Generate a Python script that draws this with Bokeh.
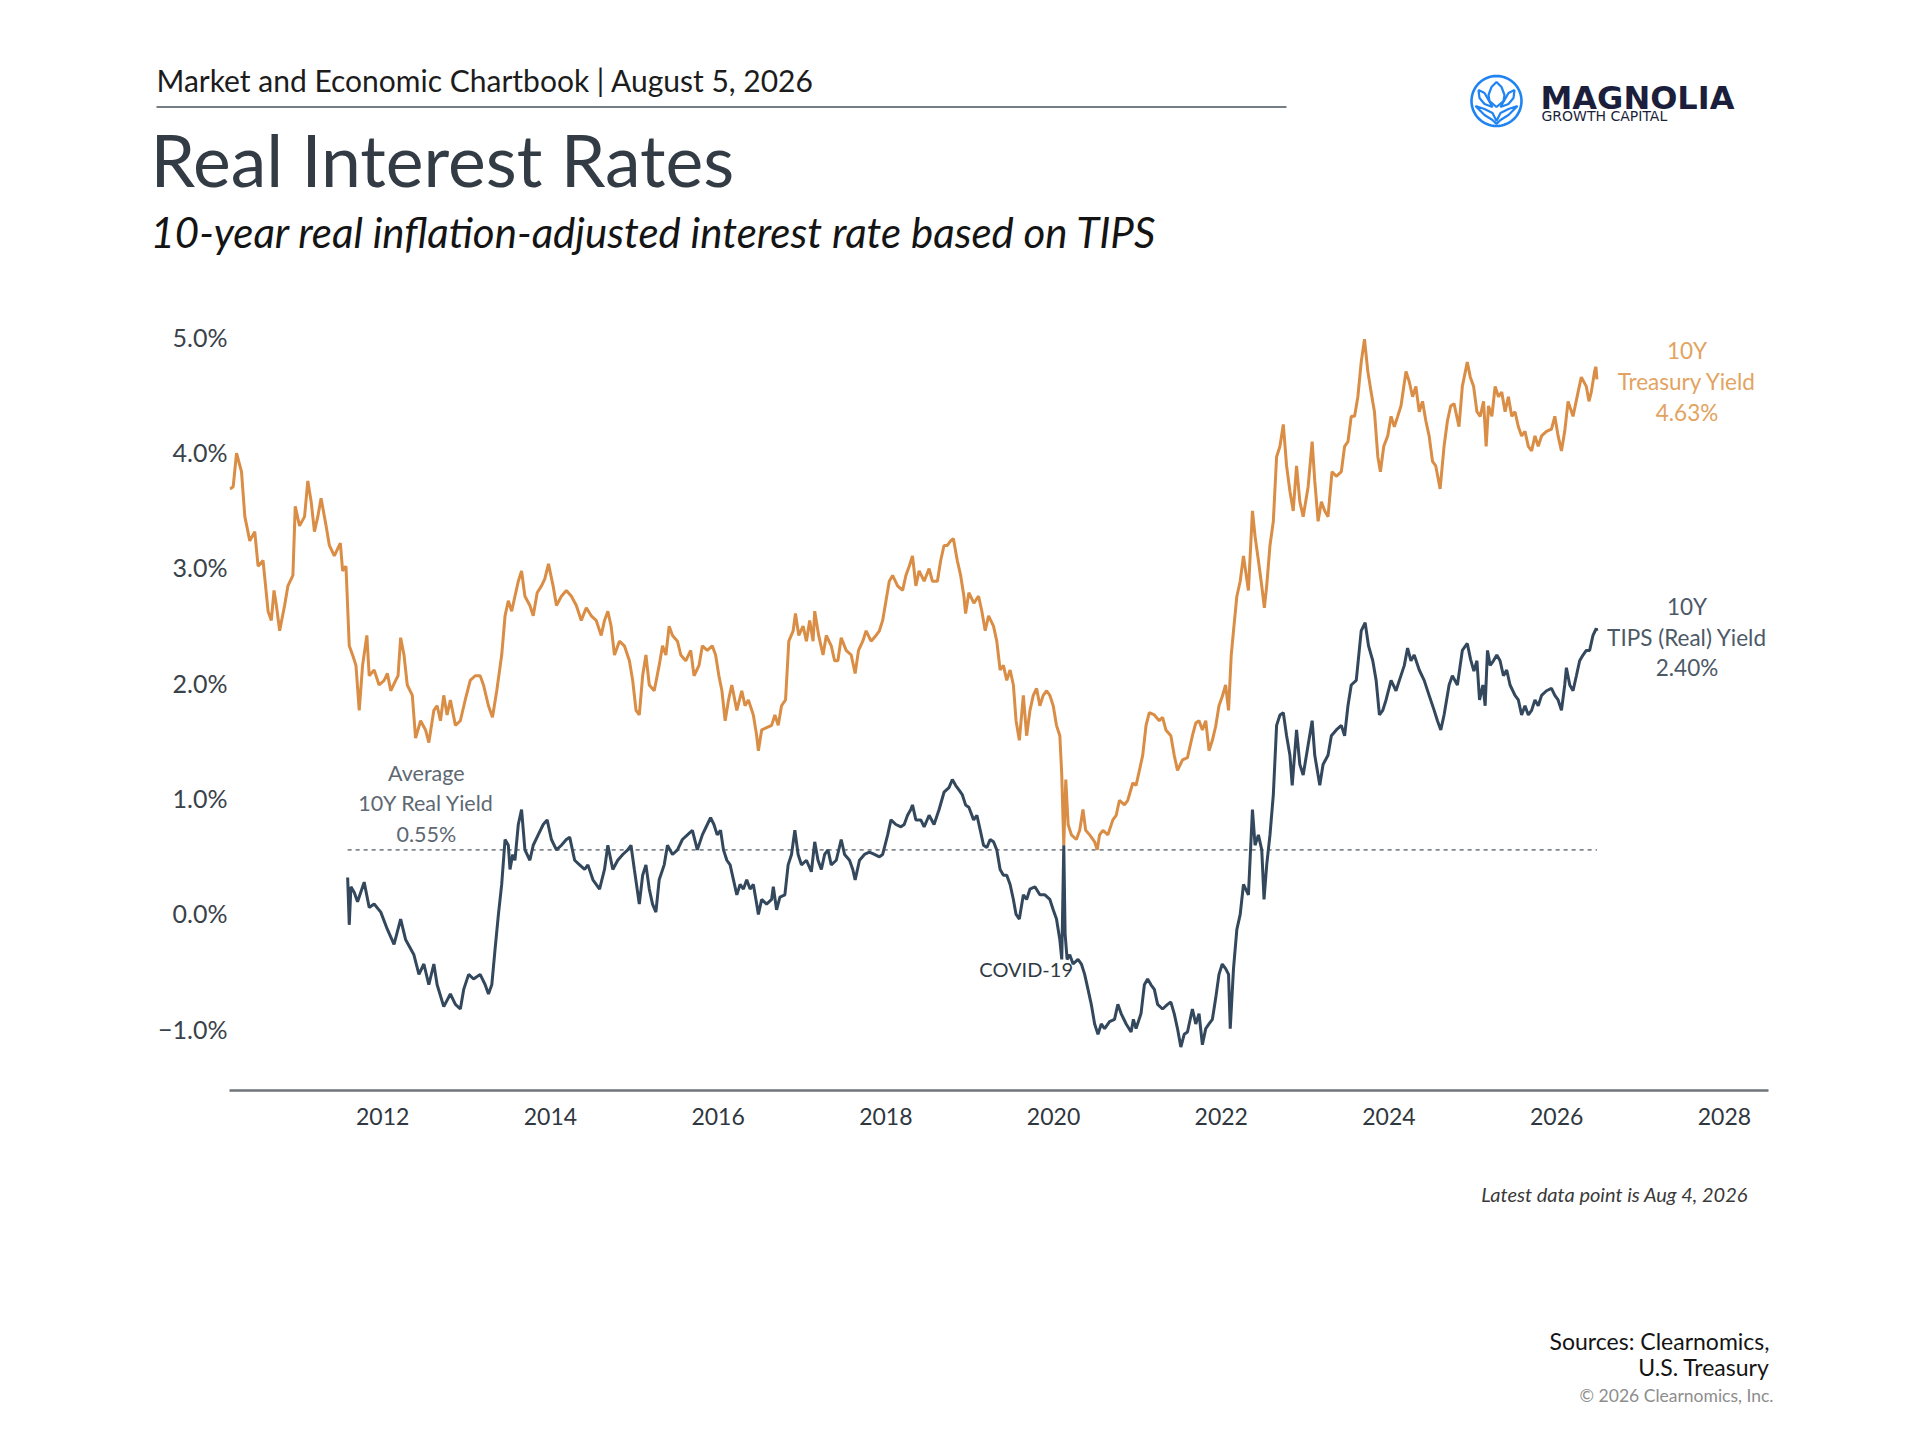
import math

from bokeh.embed import file_html
from bokeh.layouts import column
from bokeh.models import FixedTicker, Label, PolyAnnotation, Range1d
from bokeh.plotting import figure
from bokeh.resources import INLINE

# 10Y Treasury yield (%); x is decimal year
tsy_year = [
    2010.178, 2010.217, 2010.257, 2010.316, 2010.356, 2010.415, 2010.474, 2010.514, 2010.573, 2010.633,
    2010.672, 2010.704, 2010.732, 2010.771, 2010.830, 2010.870, 2010.929, 2010.957, 2011.008, 2011.068,
    2011.107, 2011.147, 2011.186, 2011.226, 2011.265, 2011.325, 2011.364, 2011.423, 2011.495, 2011.522,
    2011.562, 2011.601, 2011.641, 2011.681, 2011.720, 2011.760, 2011.811, 2011.839, 2011.898, 2011.957,
    2012.017, 2012.056, 2012.096, 2012.155, 2012.183, 2012.214, 2012.254, 2012.293, 2012.353, 2012.392,
    2012.452, 2012.511, 2012.550, 2012.610, 2012.649, 2012.689, 2012.728, 2012.768, 2012.807, 2012.867,
    2012.926, 2012.984, 2013.044, 2013.103, 2013.162, 2013.202, 2013.261, 2013.309, 2013.360, 2013.419,
    2013.459, 2013.498, 2013.538, 2013.577, 2013.617, 2013.656, 2013.696, 2013.755, 2013.795, 2013.842,
    2013.894, 2013.933, 2013.977, 2014.032, 2014.072, 2014.131, 2014.190, 2014.250, 2014.309, 2014.368,
    2014.428, 2014.487, 2014.546, 2014.606, 2014.645, 2014.685, 2014.724, 2014.764, 2014.823, 2014.882,
    2014.942, 2014.981, 2015.021, 2015.060, 2015.100, 2015.139, 2015.179, 2015.238, 2015.297, 2015.337,
    2015.377, 2015.416, 2015.456, 2015.515, 2015.555, 2015.614, 2015.673, 2015.713, 2015.772, 2015.812,
    2015.871, 2015.930, 2015.970, 2016.009, 2016.045, 2016.084, 2016.124, 2016.163, 2016.223, 2016.282,
    2016.321, 2016.361, 2016.420, 2016.460, 2016.480, 2016.519, 2016.578, 2016.638, 2016.677, 2016.717,
    2016.756, 2016.804, 2016.843, 2016.895, 2016.922, 2016.962, 2017.013, 2017.053, 2017.092, 2017.132,
    2017.152, 2017.199, 2017.251, 2017.290, 2017.349, 2017.389, 2017.428, 2017.468, 2017.527, 2017.587,
    2017.634, 2017.674, 2017.725, 2017.765, 2017.824, 2017.883, 2017.923, 2017.962, 2018.002, 2018.041,
    2018.081, 2018.140, 2018.200, 2018.239, 2018.279, 2018.318, 2018.358, 2018.397, 2018.457, 2018.516,
    2018.555, 2018.615, 2018.654, 2018.694, 2018.733, 2018.773, 2018.805, 2018.852, 2018.892, 2018.931,
    2018.951, 2018.990, 2019.050, 2019.106, 2019.145, 2019.185, 2019.225, 2019.284, 2019.323, 2019.363,
    2019.402, 2019.442, 2019.482, 2019.521, 2019.553, 2019.592, 2019.640, 2019.679, 2019.719, 2019.758,
    2019.798, 2019.837, 2019.877, 2019.917, 2019.956, 2019.996, 2020.035, 2020.075, 2020.098, 2020.122,
    2020.146, 2020.174, 2020.213, 2020.272, 2020.312, 2020.351, 2020.383, 2020.431, 2020.490, 2020.521,
    2020.549, 2020.589, 2020.648, 2020.707, 2020.747, 2020.786, 2020.846, 2020.885, 2020.945, 2020.984,
    2021.024, 2021.063, 2021.103, 2021.142, 2021.202, 2021.261, 2021.300, 2021.340, 2021.399, 2021.439,
    2021.478, 2021.538, 2021.597, 2021.656, 2021.696, 2021.735, 2021.775, 2021.815, 2021.854, 2021.894,
    2021.933, 2021.973, 2022.012, 2022.052, 2022.087, 2022.119, 2022.146, 2022.186, 2022.226, 2022.265,
    2022.324, 2022.372, 2022.403, 2022.443, 2022.483, 2022.514, 2022.542, 2022.581, 2022.621, 2022.660,
    2022.700, 2022.740, 2022.779, 2022.819, 2022.858, 2022.898, 2022.937, 2022.977, 2023.036, 2023.084,
    2023.115, 2023.155, 2023.194, 2023.234, 2023.273, 2023.321, 2023.372, 2023.432, 2023.471, 2023.511,
    2023.550, 2023.590, 2023.629, 2023.669, 2023.708, 2023.748, 2023.787, 2023.827, 2023.867, 2023.898,
    2023.938, 2023.985, 2024.025, 2024.064, 2024.104, 2024.143, 2024.203, 2024.242, 2024.282, 2024.321,
    2024.361, 2024.400, 2024.440, 2024.479, 2024.519, 2024.558, 2024.610, 2024.657, 2024.697, 2024.736,
    2024.776, 2024.835, 2024.875, 2024.934, 2024.970, 2025.009, 2025.049, 2025.088, 2025.128, 2025.159,
    2025.187, 2025.227, 2025.266, 2025.306, 2025.345, 2025.385, 2025.424, 2025.464, 2025.503, 2025.543,
    2025.582, 2025.622, 2025.662, 2025.701, 2025.741, 2025.780, 2025.820, 2025.879, 2025.938, 2025.978,
    2026.017, 2026.057, 2026.096, 2026.136, 2026.195, 2026.255, 2026.294, 2026.353, 2026.385, 2026.413,
    2026.452, 2026.468, 2026.480,
]
tsy_yield = [
    3.68, 3.70, 3.99, 3.83, 3.44, 3.23, 3.31, 3.01, 3.06, 2.62,
    2.54, 2.80, 2.67, 2.45, 2.67, 2.84, 2.93, 3.53, 3.36, 3.44,
    3.75, 3.57, 3.31, 3.44, 3.60, 3.36, 3.19, 3.10, 3.21, 2.97,
    3.01, 2.32, 2.24, 2.15, 1.76, 2.15, 2.41, 2.06, 2.11, 1.98,
    2.02, 2.08, 1.93, 2.02, 2.06, 2.39, 2.24, 1.98, 1.89, 1.52,
    1.67, 1.59, 1.48, 1.76, 1.80, 1.67, 1.89, 1.72, 1.85, 1.63,
    1.67, 1.85, 2.02, 2.06, 2.06, 1.98, 1.80, 1.70, 1.93, 2.24,
    2.58, 2.71, 2.62, 2.75, 2.88, 2.97, 2.75, 2.67, 2.58, 2.78,
    2.84, 2.90, 3.03, 2.84, 2.67, 2.75, 2.80, 2.75, 2.67, 2.54,
    2.65, 2.58, 2.54, 2.41, 2.54, 2.62, 2.49, 2.24, 2.36, 2.32,
    2.19, 2.02, 1.76, 1.72, 2.06, 2.24, 1.98, 1.93, 2.15, 2.32,
    2.24, 2.49, 2.41, 2.36, 2.24, 2.19, 2.28, 2.06, 2.15, 2.32,
    2.28, 2.32, 2.24, 2.06, 1.93, 1.67, 1.85, 1.98, 1.76, 1.93,
    1.80, 1.85, 1.72, 1.54, 1.41, 1.59, 1.61, 1.63, 1.72, 1.63,
    1.80, 1.85, 2.36, 2.45, 2.60, 2.41, 2.49, 2.36, 2.54, 2.36,
    2.62, 2.41, 2.24, 2.41, 2.32, 2.19, 2.19, 2.39, 2.28, 2.24,
    2.08, 2.28, 2.36, 2.45, 2.36, 2.41, 2.45, 2.54, 2.71, 2.88,
    2.93, 2.84, 2.80, 2.93, 3.01, 3.10, 2.84, 2.97, 2.88, 2.99,
    2.88, 2.88, 3.06, 3.19, 3.19, 3.23, 3.25, 3.06, 2.93, 2.75,
    2.60, 2.78, 2.69, 2.75, 2.62, 2.45, 2.58, 2.49, 2.36, 2.11,
    2.15, 2.02, 2.11, 1.98, 1.67, 1.50, 1.89, 1.54, 1.76, 1.89,
    1.95, 1.80, 1.89, 1.93, 1.89, 1.80, 1.63, 1.54, 1.20, 0.59,
    1.16, 0.77, 0.68, 0.64, 0.72, 0.90, 0.72, 0.68, 0.62, 0.55,
    0.68, 0.72, 0.68, 0.81, 0.85, 0.98, 0.94, 0.98, 1.13, 1.11,
    1.24, 1.37, 1.63, 1.74, 1.72, 1.67, 1.70, 1.59, 1.54, 1.37,
    1.24, 1.33, 1.35, 1.54, 1.65, 1.67, 1.59, 1.67, 1.41, 1.50,
    1.62, 1.80, 1.88, 1.98, 1.76, 2.24, 2.45, 2.75, 2.88, 3.10,
    2.80, 3.49, 3.27, 3.06, 2.84, 2.65, 2.84, 3.19, 3.40, 3.96,
    4.05, 4.24, 3.88, 3.66, 3.49, 3.88, 3.57, 3.44, 3.70, 4.09,
    3.75, 3.40, 3.57, 3.49, 3.44, 3.83, 3.79, 3.83, 4.05, 4.09,
    4.31, 4.31, 4.48, 4.78, 4.98, 4.70, 4.52, 4.35, 3.96, 3.83,
    4.05, 4.14, 4.31, 4.22, 4.31, 4.40, 4.70, 4.61, 4.48, 4.57,
    4.35, 4.44, 4.27, 4.14, 3.92, 3.88, 3.68, 4.05, 4.27, 4.40,
    4.42, 4.22, 4.57, 4.78, 4.65, 4.57, 4.35, 4.31, 4.44, 4.05,
    4.40, 4.31, 4.57, 4.48, 4.52, 4.35, 4.48, 4.31, 4.35, 4.22,
    4.14, 4.18, 4.05, 4.01, 4.14, 4.05, 4.14, 4.18, 4.20, 4.31,
    4.14, 4.01, 4.18, 4.44, 4.31, 4.52, 4.65, 4.57, 4.44, 4.52,
    4.70, 4.74, 4.63,
]

# 10Y TIPS (real) yield (%)
tips_year = [
    2011.582, 2011.601, 2011.621, 2011.661, 2011.700, 2011.779, 2011.839, 2011.898, 2011.977, 2012.056,
    2012.135, 2012.214, 2012.274, 2012.372, 2012.432, 2012.491, 2012.550, 2012.610, 2012.649, 2012.728,
    2012.807, 2012.867, 2012.926, 2012.966, 2013.025, 2013.084, 2013.162, 2013.222, 2013.261, 2013.301,
    2013.340, 2013.380, 2013.419, 2013.459, 2013.498, 2013.518, 2013.550, 2013.577, 2013.617, 2013.656,
    2013.696, 2013.755, 2013.795, 2013.854, 2013.914, 2013.961, 2014.012, 2014.072, 2014.131, 2014.190,
    2014.230, 2014.289, 2014.348, 2014.408, 2014.447, 2014.507, 2014.586, 2014.645, 2014.685, 2014.744,
    2014.803, 2014.863, 2014.922, 2014.961, 2015.001, 2015.060, 2015.100, 2015.139, 2015.179, 2015.218,
    2015.258, 2015.297, 2015.357, 2015.396, 2015.456, 2015.515, 2015.574, 2015.634, 2015.693, 2015.752,
    2015.812, 2015.871, 2015.910, 2015.950, 2015.989, 2016.029, 2016.064, 2016.104, 2016.143, 2016.183,
    2016.223, 2016.262, 2016.302, 2016.341, 2016.381, 2016.420, 2016.460, 2016.480, 2016.519, 2016.578,
    2016.638, 2016.658, 2016.697, 2016.737, 2016.796, 2016.835, 2016.875, 2016.915, 2016.954, 2016.994,
    2017.053, 2017.112, 2017.152, 2017.191, 2017.231, 2017.270, 2017.310, 2017.349, 2017.409, 2017.468,
    2017.508, 2017.567, 2017.606, 2017.634, 2017.686, 2017.745, 2017.804, 2017.864, 2017.923, 2017.962,
    2018.022, 2018.061, 2018.120, 2018.180, 2018.219, 2018.259, 2018.298, 2018.318, 2018.358, 2018.417,
    2018.457, 2018.516, 2018.575, 2018.635, 2018.694, 2018.753, 2018.793, 2018.832, 2018.872, 2018.911,
    2018.951, 2018.990, 2019.047, 2019.086, 2019.126, 2019.165, 2019.205, 2019.244, 2019.284, 2019.323,
    2019.363, 2019.402, 2019.442, 2019.482, 2019.521, 2019.553, 2019.592, 2019.640, 2019.679, 2019.719,
    2019.778, 2019.837, 2019.897, 2019.956, 2019.996, 2020.035, 2020.075, 2020.098, 2020.122, 2020.138,
    2020.162, 2020.193, 2020.233, 2020.292, 2020.332, 2020.371, 2020.411, 2020.450, 2020.490, 2020.530,
    2020.569, 2020.609, 2020.668, 2020.727, 2020.767, 2020.806, 2020.866, 2020.925, 2020.952, 2020.984,
    2021.043, 2021.083, 2021.122, 2021.162, 2021.202, 2021.241, 2021.300, 2021.360, 2021.399, 2021.439,
    2021.478, 2021.518, 2021.558, 2021.597, 2021.656, 2021.696, 2021.735, 2021.775, 2021.815, 2021.854,
    2021.894, 2021.933, 2021.973, 2022.012, 2022.052, 2022.087, 2022.107, 2022.146, 2022.186, 2022.226,
    2022.265, 2022.324, 2022.372, 2022.403, 2022.443, 2022.483, 2022.510, 2022.542, 2022.581, 2022.621,
    2022.660, 2022.700, 2022.740, 2022.779, 2022.819, 2022.846, 2022.898, 2022.937, 2022.977, 2023.036,
    2023.084, 2023.115, 2023.175, 2023.214, 2023.273, 2023.313, 2023.372, 2023.432, 2023.471, 2023.511,
    2023.550, 2023.610, 2023.669, 2023.716, 2023.756, 2023.807, 2023.847, 2023.886, 2023.926, 2023.965,
    2024.025, 2024.084, 2024.124, 2024.183, 2024.222, 2024.262, 2024.301, 2024.361, 2024.420, 2024.479,
    2024.539, 2024.578, 2024.618, 2024.657, 2024.717, 2024.756, 2024.816, 2024.875, 2024.934, 2024.974,
    2025.013, 2025.049, 2025.080, 2025.120, 2025.147, 2025.175, 2025.207, 2025.246, 2025.286, 2025.325,
    2025.365, 2025.404, 2025.444, 2025.503, 2025.543, 2025.582, 2025.622, 2025.662, 2025.701, 2025.741,
    2025.780, 2025.820, 2025.879, 2025.938, 2025.978, 2026.017, 2026.057, 2026.096, 2026.116, 2026.156,
    2026.195, 2026.235, 2026.274, 2026.314, 2026.353, 2026.393, 2026.433, 2026.472, 2026.480,
]
tips_yield = [
    0.31, -0.10, 0.23, 0.18, 0.10, 0.27, 0.05, 0.08, 0.01, -0.14,
    -0.27, -0.05, -0.23, -0.36, -0.53, -0.44, -0.62, -0.44, -0.62, -0.81,
    -0.70, -0.79, -0.83, -0.66, -0.53, -0.57, -0.53, -0.62, -0.70, -0.62,
    -0.31, -0.01, 0.25, 0.64, 0.59, 0.38, 0.51, 0.46, 0.77, 0.90,
    0.55, 0.46, 0.59, 0.68, 0.77, 0.81, 0.64, 0.55, 0.59, 0.64,
    0.66, 0.46, 0.42, 0.38, 0.42, 0.29, 0.21, 0.38, 0.59, 0.38,
    0.46, 0.51, 0.55, 0.59, 0.38, 0.08, 0.33, 0.42, 0.21, 0.08,
    0.01, 0.29, 0.42, 0.59, 0.51, 0.55, 0.64, 0.68, 0.72, 0.55,
    0.68, 0.77, 0.83, 0.77, 0.68, 0.72, 0.55, 0.46, 0.42, 0.29,
    0.16, 0.25, 0.21, 0.29, 0.21, 0.25, 0.08, -0.01, 0.12, 0.08,
    0.12, 0.23, 0.03, 0.14, 0.16, 0.42, 0.51, 0.72, 0.51, 0.42,
    0.46, 0.36, 0.62, 0.46, 0.38, 0.51, 0.55, 0.42, 0.46, 0.64,
    0.51, 0.46, 0.38, 0.29, 0.46, 0.51, 0.53, 0.51, 0.49, 0.51,
    0.68, 0.81, 0.77, 0.75, 0.77, 0.85, 0.90, 0.94, 0.81, 0.81,
    0.75, 0.85, 0.77, 0.90, 1.05, 1.09, 1.16, 1.11, 1.07, 1.03,
    0.94, 0.92, 0.81, 0.85, 0.72, 0.59, 0.57, 0.64, 0.62, 0.55,
    0.38, 0.33, 0.33, 0.25, 0.12, -0.01, -0.05, 0.16, 0.12, 0.21,
    0.23, 0.16, 0.16, 0.12, 0.03, -0.05, -0.23, -0.40, 0.59, -0.18,
    -0.40, -0.36, -0.44, -0.40, -0.44, -0.53, -0.66, -0.79, -0.96, -1.05,
    -0.96, -1.00, -0.94, -0.92, -0.79, -0.87, -0.96, -1.03, -0.92, -1.00,
    -0.87, -0.62, -0.57, -0.62, -0.66, -0.79, -0.83, -0.79, -0.77, -0.87,
    -1.00, -1.16, -1.05, -1.03, -0.83, -0.96, -0.87, -1.14, -1.00, -0.96,
    -0.92, -0.74, -0.53, -0.44, -0.48, -0.53, -1.00, -0.48, -0.14, -0.01,
    0.25, 0.16, 0.90, 0.59, 0.68, 0.55, 0.12, 0.42, 0.68, 1.03,
    1.63, 1.72, 1.74, 1.54, 1.37, 1.11, 1.59, 1.29, 1.20, 1.46,
    1.67, 1.37, 1.11, 1.29, 1.37, 1.54, 1.59, 1.63, 1.54, 1.80,
    1.98, 2.02, 2.45, 2.52, 2.32, 2.19, 2.02, 1.72, 1.76, 1.85,
    2.02, 1.93, 2.02, 2.15, 2.30, 2.19, 2.24, 2.11, 2.02, 1.89,
    1.76, 1.67, 1.59, 1.72, 1.98, 2.06, 1.98, 2.28, 2.34, 2.20,
    2.10, 2.19, 1.85, 1.98, 1.80, 2.28, 2.15, 2.19, 2.24, 2.19,
    2.06, 2.11, 1.98, 1.89, 1.85, 1.72, 1.80, 1.72, 1.76, 1.85,
    1.80, 1.89, 1.93, 1.95, 1.89, 1.85, 1.76, 1.98, 2.13, 1.98,
    1.93, 2.06, 2.19, 2.24, 2.28, 2.28, 2.41, 2.47, 2.45,
]

avg_real_yield = 0.55
latest_tsy = 4.63
latest_tips = 2.40

x_ticks = [2012, 2014, 2016, 2018, 2020, 2022, 2024, 2026, 2028]
y_ticks = [-1, 0, 1, 2, 3, 4, 5]
y_tick_labels = ["\u22121.0%", "0.0%", "1.0%", "2.0%", "3.0%", "4.0%", "5.0%"]

FONT = "Lato"
ORANGE = "#d98d45"
SLATE = "#33485c"
W = 1904


def note(fig, text, x, y, size, color, align="center", baseline="middle",
         style="normal", font=FONT):
    fig.add_layout(Label(x=x, y=y, text=text, text_font=font,
                         text_font_size=f"{size}px", text_color=color,
                         text_align=align, text_baseline=baseline,
                         text_font_style=style))


def blank(height):
    # pixel-space panel: x to the right, y downwards
    f = figure(width=W, height=height, x_range=Range1d(0, W), y_range=Range1d(height, 0),
               min_border=0, x_axis_location=None, y_axis_location=None,
               output_backend="svg", toolbar_location=None, frame_align=False)
    f.outline_line_color = None
    f.grid.visible = False
    return f


# ---- header ----
head = blank(280)
note(head, "Market and Economic Chartbook | August 5, 2026", 156, 79, 30, "#1c1c1c", align="left")
head.segment(x0=[156], y0=[106.5], x1=[1286], y1=[106.5], line_color="#4a525b", line_width=1.6)
note(head, "Real Interest Rates", 150, 158, 71.5, "#333c45", align="left")
note(head, "10-year real inflation-adjusted interest rate based on TIPS", 150, 231, 42,
     "#141414", align="left", style="italic")

LOGO_BLUE = "#1f84f2"
cx, cy = 1496, 100.5


def outline(pts, width=2.2):
    head.add_layout(PolyAnnotation(xs=[cx + dx for dx, _ in pts], ys=[cy + dy for _, dy in pts],
                                   fill_alpha=0, line_alpha=1, line_color=LOGO_BLUE,
                                   line_width=width))


outline([(25 * math.cos(a * math.pi / 30), 25 * math.sin(a * math.pi / 30)) for a in range(60)], 2.6)
outline([(0, -19), (5, -14), (8, -6), (7, 0), (0, 6), (-7, 0), (-8, -6), (-5, -14)])
outline([(-18, -11), (-12, -8), (-8, -1), (-4, 6), (-12, 3), (-17, -3)])
outline([(18, -11), (12, -8), (8, -1), (4, 6), (12, 3), (17, -3)])
outline([(-21, 5), (-12, 8), (-4, 12), (0, 20), (4, 12), (12, 8), (21, 5),
         (12, 14), (4, 19), (0, 23), (-4, 19), (-12, 14)])
note(head, "MAGNOLIA", 1540, 97, 32, "#1b1f3b", align="left", font="DejaVu Sans", style="bold")
note(head, "GROWTH CAPITAL", 1541, 115, 14, "#1b1f3b", align="left", font="DejaVu Sans")

# ---- chart ----
p = figure(
    width=W, height=880,
    x_range=(2010.173, 2028.526), y_range=(-1.537, 5.332),
    min_border_left=229, min_border_right=136, min_border_top=18, min_border_bottom=70,
    output_backend="svg", toolbar_location=None, frame_align=False,
)
p.outline_line_color = None
p.grid.visible = False

xa = p.xaxis[0]
xa.ticker = FixedTicker(ticks=x_ticks)
xa.major_label_overrides = {t: str(t) for t in x_ticks}
xa.axis_line_color = "#6e7479"
xa.axis_line_width = 2.5
xa.major_tick_line_color = None
xa.minor_tick_line_color = None
xa.major_tick_out = 0
xa.major_tick_in = 0
xa.major_label_standoff = 17
xa.major_label_text_font = FONT
xa.major_label_text_font_size = "23px"
xa.major_label_text_color = "#2f3740"

ya = p.yaxis[0]
ya.ticker = FixedTicker(ticks=y_ticks)
ya.major_label_overrides = dict(zip(y_ticks, y_tick_labels))
ya.axis_line_color = None
ya.major_tick_line_color = None
ya.minor_tick_line_color = None
ya.major_tick_out = 0
ya.major_tick_in = 0
ya.major_label_standoff = 2
ya.major_label_text_font = FONT
ya.major_label_text_font_size = "25px"
ya.major_label_text_color = "#3a424a"

p.line([tips_year[0], tips_year[-1]], [avg_real_yield, avg_real_yield],
       line_color="#80878d", line_width=1.6, line_dash="4 4")
p.line(tsy_year, tsy_yield, line_color=ORANGE, line_width=3)
p.line(tips_year, tips_yield, line_color=SLATE, line_width=3)

for txt, yy in [("Average", 1.218), ("10Y Real Yield", 0.960), (f"{avg_real_yield:.2f}%", 0.684)]:
    note(p, txt, 2012.52, yy, 21.5, "#5e6873")
note(p, "COVID-19", 2020.232, -0.48, 20, "#2f3a44", align="right")
for txt, yy in [("10Y", 4.882), ("Treasury Yield", 4.614), (f"{latest_tsy:.2f}%", 4.347)]:
    note(p, txt, 2027.554, yy, 22.5, "#e3a360")
for txt, yy in [("10Y", 2.665), ("TIPS (Real) Yield", 2.396), (f"{latest_tips:.2f}%", 2.129)]:
    note(p, txt, 2027.554, yy, 22.5, "#4c5967")

# ---- footer ----
foot = blank(264)
note(foot, "Latest data point is Aug 4, 2026", 1747.5, 33, 20, "#3a3a3a", align="right",
     style="italic")
note(foot, "Sources: Clearnomics,", 1769, 180, 23, "#141414", align="right")
note(foot, "U.S. Treasury", 1769, 206, 23, "#141414", align="right")
note(foot, "\u00a9 2026 Clearnomics, Inc.", 1773, 235, 17.5, "#8d8d8d", align="right")

page = column(head, p, foot)
open("out.html", "w").write(file_html(page, INLINE))
